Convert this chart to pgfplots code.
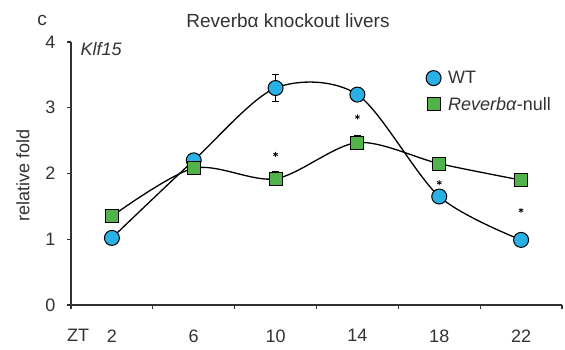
\documentclass[border=0pt]{standalone}
\usepackage{pgfplots}
\pgfplotsset{compat=1.18}
\usepackage{fontspec}
\setmainfont{Liberation Sans}
\definecolor{wtblue}{RGB}{41,176,228}
\definecolor{nullgreen}{RGB}{80,180,75}
\definecolor{axgray}{RGB}{50,50,50}
\begin{document}
\begin{tikzpicture}[x=1pt,y=1pt]
\path[use as bounding box] (0pt,0pt) rectangle (565pt,350pt);
\begin{axis}[
  at={(71pt,45pt)}, anchor=origin,
  scale only axis, width=491pt, height=263pt,
  xmin=0, xmax=24, ymin=0, ymax=4,
  axis lines=left, axis line style={-, line width=1.4pt, axgray},
  xtick={0,4,...,24}, xticklabels={},
  extra x ticks={0.35,2,6,10,14,18,22},
  extra x tick labels={ZT,2,6,10,14,18,22},
  extra x tick style={major tick length=0pt, xticklabel style={yshift=-21pt}},
  ytick={0,1,2,3,4}, yticklabels={0,1,2,3,4},
  yticklabel style={xshift=-8pt},
  tick align=outside, major tick length=4pt,
  tick style={line width=1.2pt, axgray},
  tick label style={font=\fontsize{18}{18}\selectfont, text=axgray},
  clip=false,
  legend style={at={(axis cs:17.2,3.62)}, anchor=north west, draw=none, fill=none,
    font=\fontsize{18}{18}\selectfont, row sep=8pt, text=axgray,
    /tikz/every odd column/.append style={column sep=5pt}},
  legend cell align=left,
]
\addplot[smooth, black, line width=1.3pt, forget plot] coordinates {(2,1.02) (6,2.2) (10,3.30) (14,3.20) (18,1.65) (22,0.99)};
\addplot[smooth, black, line width=1.3pt, forget plot] coordinates {(2,1.35) (6,2.08) (10,1.92) (14,2.47) (18,2.15) (22,1.90)};
\addplot[only marks, mark=*, mark size=7.5pt, mark options={fill=wtblue, draw=black, line width=1pt}, forget plot,
  error bars/.cd, y dir=both, y explicit, error bar style={black, line width=1pt},
  error mark options={rotate=90, mark size=3.5pt, black, line width=1pt}]
  coordinates {(2,1.02) +- (0,0.03) (6,2.2) +- (0,0.05) (10,3.30) +- (0,0.21) (14,3.20) +- (0,0.05) (18,1.65) +- (0,0.04) (22,0.99) +- (0,0.03)};
\addplot[only marks, mark=square*, mark size=6.5pt, mark options={fill=nullgreen, draw=black, line width=1pt}, forget plot,
  error bars/.cd, y dir=both, y explicit, error bar style={black, line width=1pt},
  error mark options={rotate=90, mark size=3.5pt, black, line width=1pt}]
  coordinates {(2,1.35) +- (0,0.04) (6,2.08) +- (0,0.05) (10,1.92) +- (0,0.11) (14,2.47) +- (0,0.11) (18,2.15) +- (0,0.08) (22,1.90) +- (0,0.04)};
\addplot[only marks, mark=asterisk, mark size=2.5pt, black, line width=0.8pt, forget plot]
  coordinates {(10,2.29) (14,2.86) (18,1.86) (22,1.44)};
\addlegendimage{only marks, mark=*, mark size=7.5pt, mark options={fill=wtblue, draw=black, line width=1pt}}
\addlegendentry{WT}
\addlegendimage{only marks, mark=square*, mark size=6.5pt, mark options={fill=nullgreen, draw=black, line width=1pt}}
\addlegendentry{\textit{Reverbα}-null}
\end{axis}
\node[font=\fontsize{19}{19}\selectfont, text=axgray] at (288pt,329pt) {Reverbα knockout livers};
\node[font=\fontsize{19}{19}\selectfont, text=axgray] at (42pt,330pt) {c};
\node[font=\fontsize{18}{18}\selectfont\itshape, text=axgray, anchor=west] at (77pt,301pt) {Klf15};
\node[font=\fontsize{18}{18}\selectfont, text=axgray, rotate=90] at (23pt,175pt) {relative fold};
\end{tikzpicture}
\end{document}
